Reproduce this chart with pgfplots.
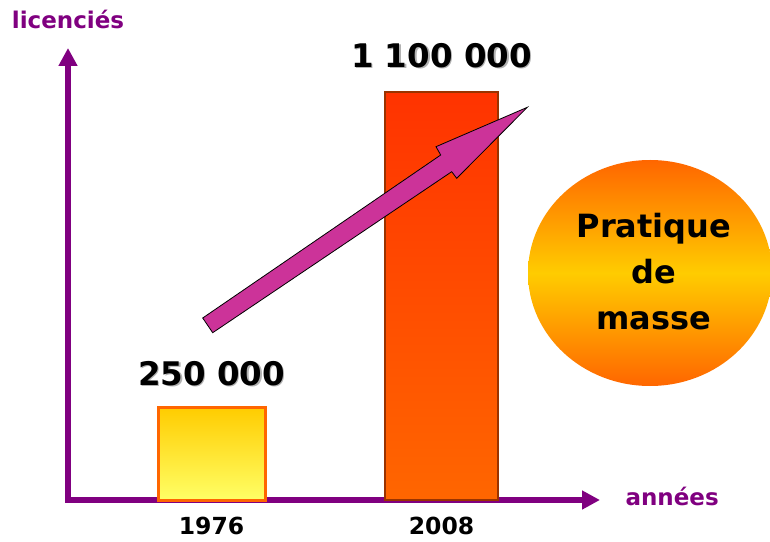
\documentclass[border=0pt]{standalone}
\usepackage{pgfplots}
\pgfplotsset{compat=1.18}
\usetikzlibrary{arrows.meta}
\usepackage{fontspec}
\setmainfont{DejaVu Sans}
\definecolor{purp}{HTML}{800080}
\definecolor{arrowmag}{HTML}{CC3399}
\definecolor{redtop}{HTML}{FF3300}
\definecolor{redbot}{HTML}{FF6600}
\definecolor{redborder}{HTML}{993300}
\definecolor{yeltop}{HTML}{FFCC00}
\definecolor{yelbot}{HTML}{FFFF66}
\definecolor{yelborder}{HTML}{FF6600}
\definecolor{ellout}{HTML}{FF6600}
\definecolor{ellmid}{HTML}{FFCC00}
\newcommand\shd[1]{\leavevmode\rlap{\kern1.5pt\raisebox{-1.5pt}{\textcolor{black!30}{#1}}}#1}
\begin{document}
\begin{tikzpicture}
\useasboundingbox (0,0) rectangle (770pt,541pt);
% ellipse
\shade[top color=ellout, bottom color=ellout, middle color=ellmid] (650pt,268pt) ellipse [x radius=122pt, y radius=113pt];
\node[align=center, font=\fontsize{32}{46}\selectfont\bfseries, text=black] at (654pt,269pt) {Pratique\\de\\masse};
\begin{axis}[
  at={(68pt,41pt)}, anchor=south west,
  scale only axis, width=532pt, height=452pt,
  xmin=0, xmax=532, ymin=0, ymax=1218900,
  axis lines=left,
  axis line style={draw=purp, line width=6pt, line cap=rect, -{Triangle[width=18pt,length=18pt]}},
  xtick={143.5,373.5}, xticklabels={1976,2008},
  ytick=\empty, major tick length=0pt,
  xticklabel style={font=\fontsize{23.5}{26}\selectfont\bfseries, yshift=-14pt},
  xlabel={années},
  every axis x label/.style={at={(axis description cs:1,0)}, anchor=base west, xshift=22pt, yshift=-5pt, font=\fontsize{23}{26}\selectfont\bfseries, text=purp},
  ylabel={licenciés},
  every axis y label/.style={at={(axis description cs:0,1)}, anchor=base, yshift=19pt, font=\fontsize{23}{26}\selectfont\bfseries, text=purp},
  clip=false,
  point meta=explicit symbolic,
  nodes near coords={\shd{\pgfplotspointmeta}},
]
\addplot[ybar, bar shift=0pt, bar width=107pt, top color=yeltop, bottom color=yelbot, draw=yelborder, line width=3pt,
  every node near coord/.append style={anchor=base, yshift=22pt, font=\fontsize{32.5}{36}\selectfont\bfseries, text=black}]
  coordinates {(143.5,250000) [250 000]};
\addplot[ybar, bar shift=0pt, bar width=113pt, top color=redtop, bottom color=redbot, draw=redborder, line width=2.5pt,
  every node near coord/.append style={anchor=base, yshift=25pt, font=\fontsize{32.5}{36}\selectfont\bfseries, text=black}]
  coordinates {(373.5,1100000) [1 100 000]};
\end{axis}
% block arrow
\draw[fill=arrowmag, draw=black, line width=0.8pt, line join=miter]
  (202.7pt,223pt) -- (440.7pt,386pt) -- (436pt,394.3pt) -- (527.3pt,433.7pt)
  -- (456.7pt,362.7pt) -- (451.7pt,369.3pt) -- (212.7pt,208.3pt) -- cycle;
\end{tikzpicture}
\end{document}
